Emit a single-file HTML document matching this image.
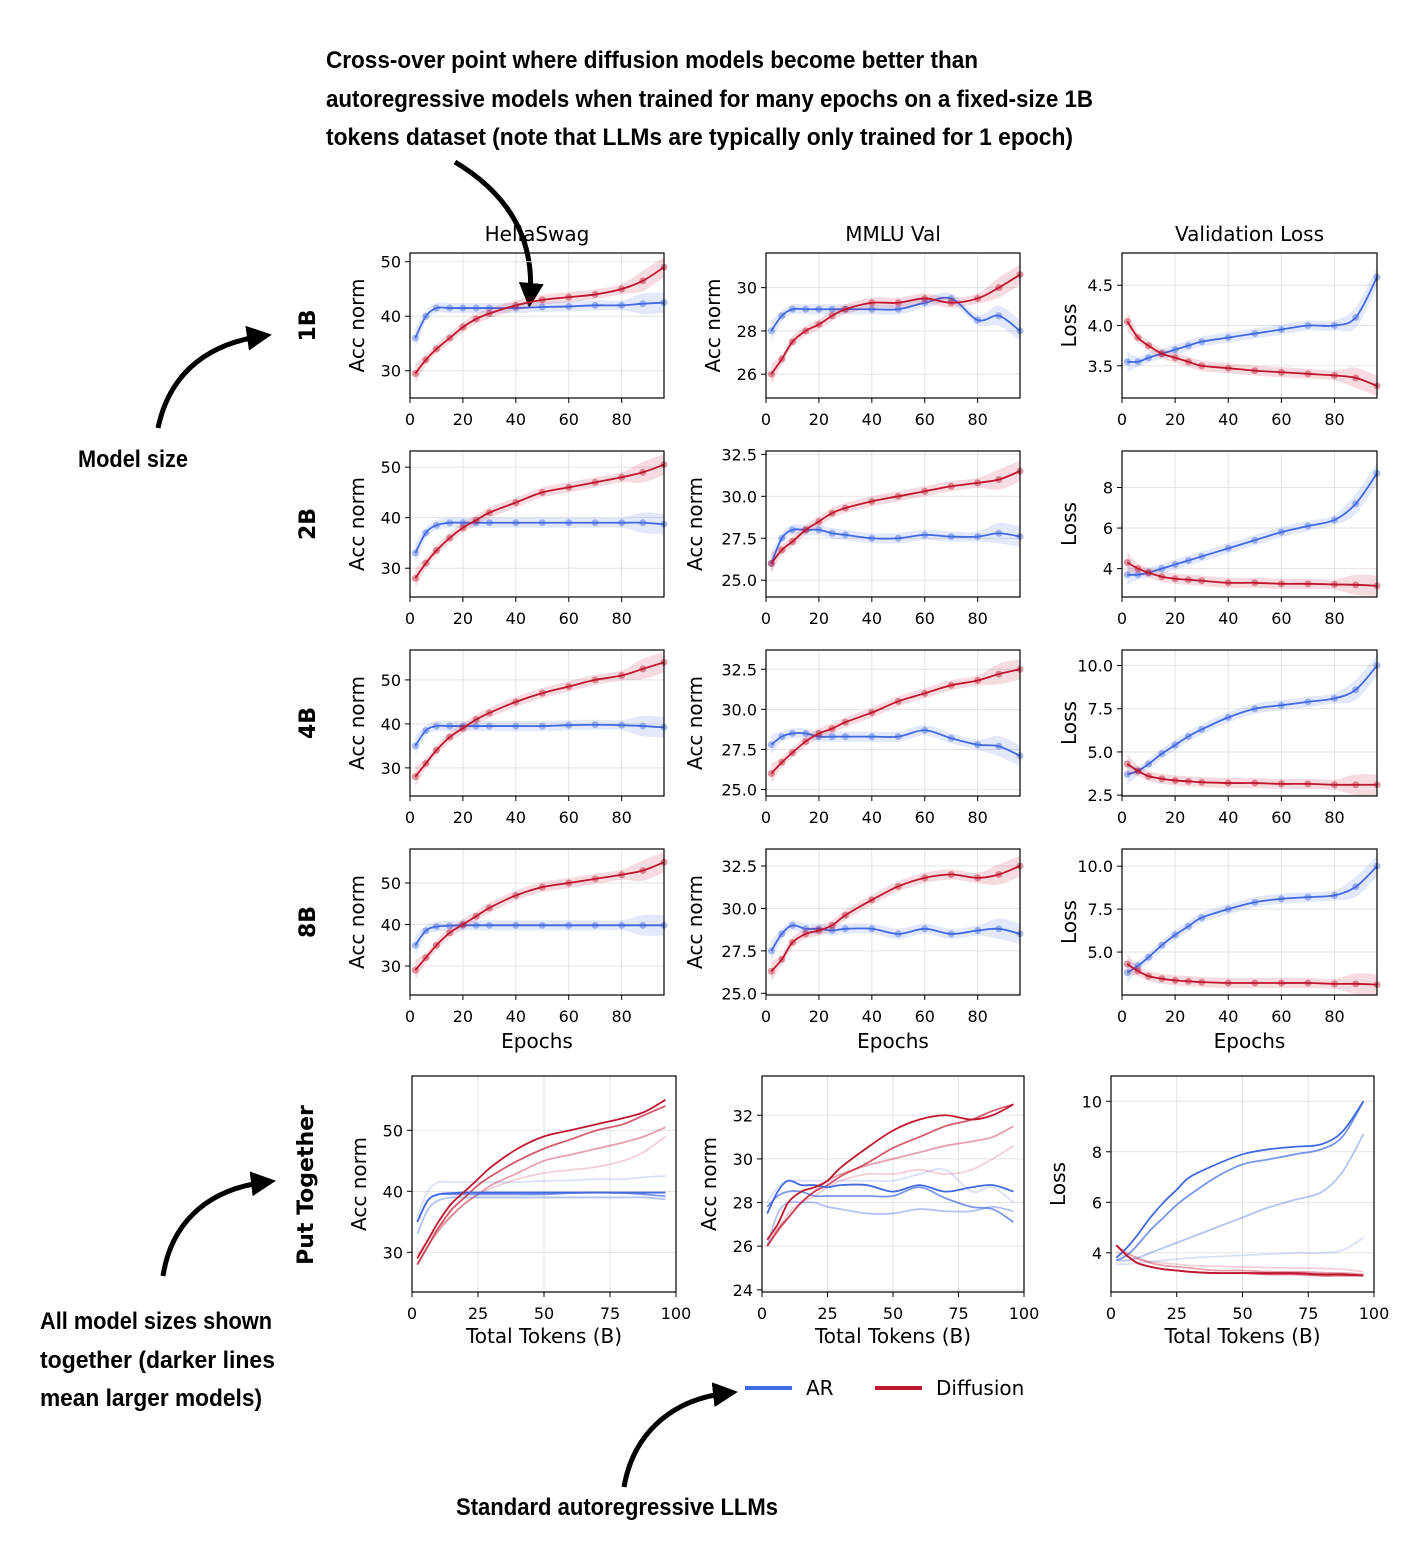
<!DOCTYPE html>
<html><head><meta charset="utf-8"><style>
body{margin:0;background:#fff}
svg text{font-family:"DejaVu Sans","Liberation Sans",sans-serif}
.ann{font-family:"Liberation Sans",sans-serif;font-weight:bold}
</style></head><body>
<svg id="chart" width="1424" height="1556" viewBox="0 0 1424 1556" xmlns="http://www.w3.org/2000/svg">
<defs>
<marker id="ah" viewBox="0 0 10 10" refX="6" refY="5" markerWidth="5" markerHeight="5" orient="auto"><path d="M0,0L10,5L0,10z" fill="#000"/></marker>
</defs>
<g>
<text class="ann" x="326" y="68" font-size="24" textLength="652" lengthAdjust="spacingAndGlyphs">Cross-over point where diffusion models become better than</text>
<text class="ann" x="326" y="107" font-size="24" textLength="767" lengthAdjust="spacingAndGlyphs">autoregressive models when trained for many epochs on a fixed-size 1B</text>
<text class="ann" x="326" y="145" font-size="24" textLength="747" lengthAdjust="spacingAndGlyphs">tokens dataset (note that LLMs are typically only trained for 1 epoch)</text>
<path d="M455,162 C510,195 535,240 530,298" stroke="#000" stroke-width="5" fill="none" marker-end="url(#ah)"/>
<text class="ann" x="78" y="467" font-size="24" textLength="110" lengthAdjust="spacingAndGlyphs">Model size</text>
<path d="M158,428 C168,380 200,345 262,336" stroke="#000" stroke-width="5" fill="none" marker-end="url(#ah)"/>
<text class="ann" x="40" y="1329" font-size="24" textLength="232" lengthAdjust="spacingAndGlyphs">All model sizes shown</text>
<text class="ann" x="40" y="1368" font-size="24" textLength="235" lengthAdjust="spacingAndGlyphs">together (darker lines</text>
<text class="ann" x="40" y="1406" font-size="24" textLength="222" lengthAdjust="spacingAndGlyphs">mean larger models)</text>
<path d="M163,1276 C170,1230 200,1190 266,1182" stroke="#000" stroke-width="5" fill="none" marker-end="url(#ah)"/>
<text class="ann" x="456" y="1515" font-size="24" textLength="322" lengthAdjust="spacingAndGlyphs">Standard autoregressive LLMs</text>
<path d="M624,1487 C632,1440 665,1400 728,1393" stroke="#000" stroke-width="5" fill="none" marker-end="url(#ah)"/>
</g>
<g>
<line x1="745" y1="1388" x2="792" y2="1388" stroke="#4169e1" stroke-width="4"/>
<text x="806" y="1395" font-size="20">AR</text>
<line x1="875" y1="1388" x2="922" y2="1388" stroke="#c0152f" stroke-width="4"/>
<text x="936" y="1395" font-size="20">Diffusion</text>
</g>
<g id="plots"></g>
</svg>
<script>
const epochs=[2,6,10,15,20,25,30,40,50,60,70,80,88,96];
const sizes=['1B','2B','4B','8B'];
// HellaSwag
const hsAR1=[36,40,41.5,41.5,41.5,41.5,41.5,41.5,41.7,41.8,42,42,42.3,42.5];
const hsDiff1=[29.5,32,34,36,38,39.5,40.5,42,43,43.5,44,45,46.5,49];
const hsAR2=[33,37,38.5,39,39,39,39,39,39,39,39,39,39,38.7];
const hsDiff2=[28,31,33.5,36,38,39.5,41,43,45,46,47,48,49,50.5];
const hsAR4=[35,38.5,39.5,39.5,39.5,39.5,39.5,39.5,39.5,39.7,39.8,39.7,39.5,39.2];
const hsDiff4=[28,31,34,37,39,41,42.5,45,47,48.5,50,51,52.5,54];
const hsAR8=[35,38.5,39.5,39.7,39.8,39.8,39.8,39.8,39.8,39.8,39.8,39.8,39.8,39.8];
const hsDiff8=[29,32,35,38,40,42,44,47,49,50,51,52,53,55];
// MMLU
const mmAR1=[28,28.7,29,29,29,29,29,29,29,29.3,29.5,28.5,28.7,28];
const mmDiff1=[26,26.7,27.5,28,28.3,28.7,29,29.3,29.3,29.5,29.3,29.5,30,30.6];
const mmAR2=[26,27.5,28,28,28,27.8,27.7,27.5,27.5,27.7,27.6,27.6,27.8,27.6];
const mmDiff2=[26,26.8,27.3,28,28.5,29,29.3,29.7,30,30.3,30.6,30.8,31,31.5];
const mmAR4=[27.8,28.3,28.5,28.5,28.3,28.3,28.3,28.3,28.3,28.7,28.2,27.8,27.7,27.1];
const mmDiff4=[26,26.7,27.3,28,28.5,28.8,29.2,29.8,30.5,31,31.5,31.8,32.2,32.5];
const mmAR8=[27.5,28.5,29,28.8,28.8,28.7,28.8,28.8,28.5,28.8,28.5,28.7,28.8,28.5];
const mmDiff8=[26.3,27,28,28.5,28.7,29,29.6,30.5,31.3,31.8,32,31.8,32,32.5];
// Validation loss
const lsAR1=[3.55,3.55,3.6,3.65,3.7,3.75,3.8,3.85,3.9,3.95,4.0,4.0,4.1,4.6];
const lsDiff1=[4.05,3.85,3.75,3.65,3.6,3.55,3.5,3.47,3.44,3.42,3.4,3.38,3.35,3.25];
const lsAR2=[3.7,3.7,3.8,4,4.2,4.4,4.6,5,5.4,5.8,6.1,6.4,7.2,8.7];
const lsDiff2=[4.3,4,3.8,3.6,3.5,3.45,3.4,3.3,3.3,3.25,3.25,3.22,3.2,3.15];
const lsAR4=[3.7,3.9,4.3,4.9,5.4,5.9,6.3,7,7.5,7.7,7.9,8.1,8.6,10];
const lsDiff4=[4.3,3.9,3.6,3.45,3.35,3.3,3.25,3.2,3.2,3.15,3.15,3.1,3.1,3.1];
const lsAR8=[3.8,4.2,4.7,5.4,6.0,6.5,7,7.5,7.9,8.1,8.2,8.3,8.8,10];
const lsDiff8=[4.3,3.9,3.6,3.45,3.35,3.3,3.25,3.2,3.2,3.2,3.2,3.15,3.15,3.1];
const xTicksEpoch=[0,20,40,60,80];
const xTicksTokens=[0,25,50,75,100];
const hsTicks=[30,40,50];
const mmTicks1=['26','28','30'];
const mmTicks=['25.0','27.5','30.0','32.5'];
const mmTicksAll=['24','26','28','30','32'];
const lsTicks1=['3.5','4.0','4.5'];
const lsTicks2=['4','6','8'];
const lsTicks4=['2.5','5.0','7.5','10.0'];
const lsTicks8=['5.0','7.5','10.0'];
const lsTicksAll=['4','6','8','10'];

const AR='#4169e1',DF='#c0152f';
const NS='http://www.w3.org/2000/svg';
const root=document.getElementById('plots');
function mk(tag,attrs,parent){const e=document.createElementNS(NS,tag);for(const k in attrs)e.setAttribute(k,attrs[k]);(parent||root).appendChild(e);return e;}
function smooth(pts){let d='M'+pts[0][0]+','+pts[0][1];for(let i=0;i<pts.length-1;i++){const p0=pts[Math.max(0,i-1)],p1=pts[i],p2=pts[i+1],p3=pts[Math.min(pts.length-1,i+2)];
d+=' C'+(p1[0]+(p2[0]-p0[0])/6)+','+(p1[1]+(p2[1]-p0[1])/6)+' '+(p2[0]-(p3[0]-p1[0])/6)+','+(p2[1]-(p3[1]-p1[1])/6)+' '+p2[0]+','+p2[1];}return d;}

const cols=[{x0:410,x1:664},{x0:766,x1:1020},{x0:1122,x1:1377}];
const rows=[{y0:253,y1:398},{y0:451,y1:597},{y0:650,y1:796},{y0:849,y1:995}];
const yr=[[[25,51.6],[24.9,31.6],[3.1,4.9]],[[24.3,53.2],[24.0,32.7],[2.6,9.8]],[[23.6,56.8],[24.6,33.7],[2.45,10.9]],[[23,58.2],[24.9,33.5],[2.5,11]]];
const series=[[[hsAR1,hsDiff1],[mmAR1,mmDiff1],[lsAR1,lsDiff1]],[[hsAR2,hsDiff2],[mmAR2,mmDiff2],[lsAR2,lsDiff2]],[[hsAR4,hsDiff4],[mmAR4,mmDiff4],[lsAR4,lsDiff4]],[[hsAR8,hsDiff8],[mmAR8,mmDiff8],[lsAR8,lsDiff8]]];
const ticks=[[hsTicks,mmTicks1,lsTicks1],[hsTicks,mmTicks,lsTicks2],[hsTicks,mmTicks,lsTicks4],[hsTicks,mmTicks,lsTicks8]];
const ylabels=['Acc norm','Acc norm','Loss'];
const titles=['HellaSwag','MMLU Val','Validation Loss'];
const metricNames=['hellaswag','mmlu','loss'];

function axes(g,x0,x1,y0,y1,sx,sy,xt,yt,ylab){
  for(const t of xt){const x=sx(t);const gl=mk('line',{x1:x,x2:x,y1:y0,y2:y1,stroke:'#e3e3e3','stroke-width':1},g);
    const tk=mk('line',{x1:x,x2:x,y1:y1,y2:y1+5,stroke:'#000'},g);
    const tl=mk('text',{x:x,y:y1+27,'font-size':16,'text-anchor':'middle'},g);tl.textContent=t;}
  for(const t of yt){const y=sy(parseFloat(t));const gl=mk('line',{x1:x0,x2:x1,y1:y,y2:y,stroke:'#e3e3e3'},g);
    const tk=mk('line',{x1:x0-5,x2:x0,y1:y,y2:y,stroke:'#000'},g);
    const tl=mk('text',{x:x0-9,y:y+6,'font-size':16,'text-anchor':'end'},g);tl.textContent=t;}
  const yl=mk('text',{x:0,y:0,'font-size':20,'text-anchor':'middle',transform:'translate('+(x0-(String(yt[0]).length>3?64:46))+','+((y0+y1)/2)+') rotate(-90)'},g);yl.textContent=ylab;
}
function frame(g,x0,x1,y0,y1){const r=mk('rect',{x:x0,y:y0,width:x1-x0,height:y1-y0,fill:'none',stroke:'#000','stroke-width':1.2},g);}

for(let r=0;r<4;r++){
  const {y0,y1}=rows[r];
  const rl=mk('text',{x:0,y:0,'font-size':22,'font-weight':'bold','text-anchor':'middle',transform:'translate(315,'+((y0+y1)/2)+') rotate(-90)'});
  rl.textContent=sizes[r];
  for(let c=0;c<3;c++){
    const {x0,x1}=cols[c];const [ymin,ymax]=yr[r][c];
    const sx=v=>x0+(v-0)/(96-0)*(x1-x0);const sy=v=>y1-(v-ymin)/(ymax-ymin)*(y1-y0);
    const g=mk('g',{});
    if(r===0){const t=mk('text',{x:(x0+x1)/2,y:241,'font-size':20,'text-anchor':'middle'},g);t.textContent=titles[c];}
    axes(g,x0,x1,y0,y1,sx,sy,xTicksEpoch,ticks[r][c],ylabels[c]);
    const w=(ymax-ymin)*0.035;
    [[series[r][c][0],AR,'ar'],[series[r][c][1],DF,'diffusion']].forEach(([vals,col,nm])=>{
      const up=epochs.map((e,i)=>[sx(e),sy(vals[i]+w*(1+(i===0||i>=12?1:0)))]);
      const lo=epochs.map((e,i)=>[sx(e),sy(vals[i]-w*(1+(i===0||i>=12?1:0)))]).reverse();
      const sl=smooth(lo);
      const band=mk('path',{d:smooth(up)+' L'+lo[0][0]+','+lo[0][1]+sl.slice(sl.indexOf(' C'))+'Z',fill:col,'fill-opacity':0.15,stroke:'none'},g);
      
      epochs.forEach((e,i)=>{const d=mk('circle',{cx:sx(e),cy:sy(vals[i]),r:3.5,fill:col,'fill-opacity':0.45},g);
        });
      const ln=mk('path',{d:smooth(epochs.map((e,i)=>[sx(e),sy(vals[i])])),stroke:col,'stroke-width':1.8,fill:'none'},g);
      
    });
    frame(g,x0,x1,y0,y1);
    if(r===3){const xl=mk('text',{x:(x0+x1)/2,y:1048,'font-size':20,'text-anchor':'middle'},g);xl.textContent='Epochs';}
  }
}
// Put together row
const c5=[{x0:412,x1:676,ymin:23.5,ymax:58.9,t:hsTicks},{x0:762,x1:1024,ymin:23.9,ymax:33.8,t:mmTicksAll},{x0:1111,x1:1374,ymin:2.45,ymax:11.0,t:lsTicksAll}];
const y50=1076,y51=1292;const opac=[0.2,0.4,0.7,1];
const pl=mk('text',{x:0,y:0,'font-size':22,'font-weight':'bold','text-anchor':'middle',transform:'translate(313,1185) rotate(-90)'});
pl.textContent='Put Together';
for(let c=0;c<3;c++){
  const {x0,x1,ymin,ymax,t}=c5[c];
  const sx=v=>x0+v/100*(x1-x0);const sy=v=>y51-(v-ymin)/(ymax-ymin)*(y51-y50);
  const g=mk('g',{});
  axes(g,x0,x1,y50,y51,sx,sy,xTicksTokens,t,ylabels[c]);
  for(let r=0;r<4;r++){
    [[series[r][c][0],AR,'ar'],[series[r][c][1],DF,'diffusion']].forEach(([vals,col,nm])=>{
      const ln=mk('path',{d:smooth(epochs.map((e,i)=>[sx(e),sy(vals[i])])),stroke:col,'stroke-opacity':opac[r],'stroke-width':1.8,fill:'none'},g);
      
    });
  }
  frame(g,x0,x1,y50,y51);
  const xl=mk('text',{x:(x0+x1)/2,y:1343,'font-size':20,'text-anchor':'middle'},g);xl.textContent='Total Tokens (B)';
}
</script>
</body></html>
